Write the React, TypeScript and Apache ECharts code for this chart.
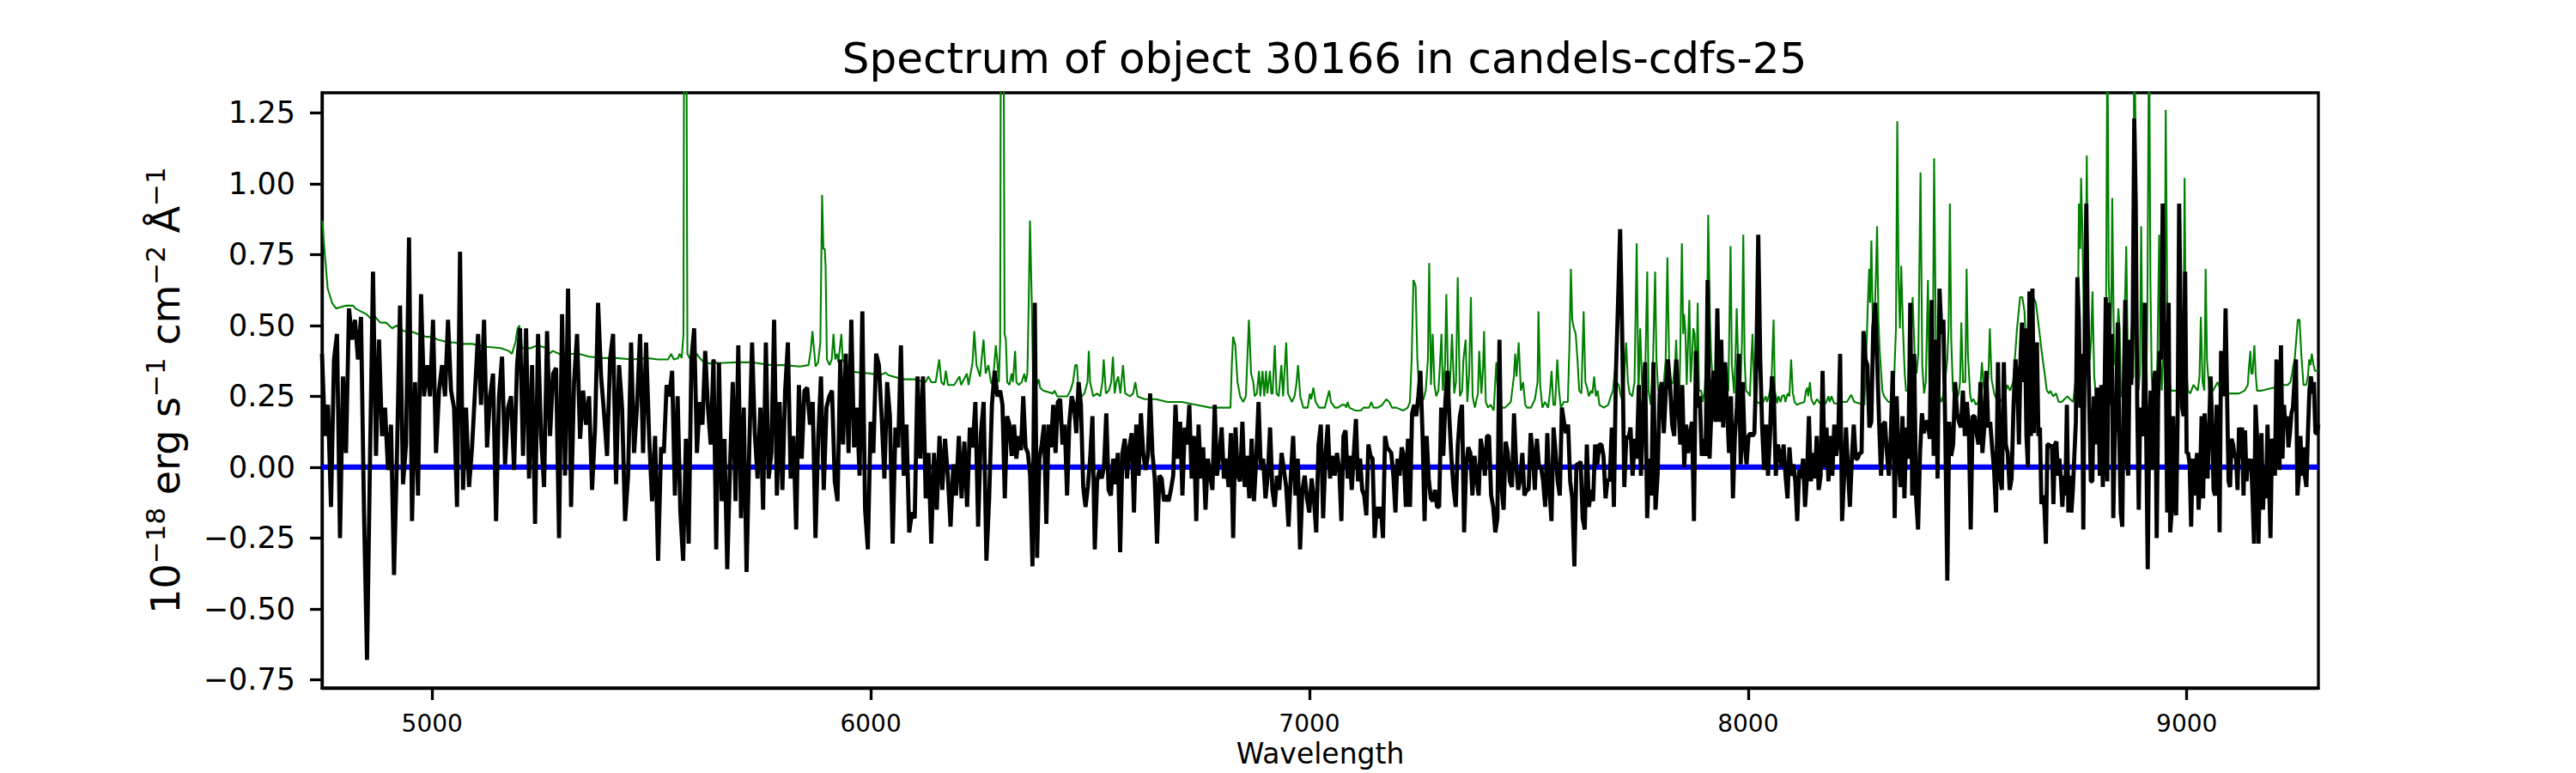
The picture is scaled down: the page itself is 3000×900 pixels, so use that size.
import React, { useEffect, useRef } from "react";
import * as echarts from "echarts";

const TITLE = "Spectrum of object 30166 in candels-cdfs-25";
const X_NAME = "Wavelength";
const Y_NAME = "{m|10}{s|\u221218}{m| erg s}{s|\u22121}{m| cm}{s|\u22122}{m| \u00c5}{s|\u22121}";
const X_MIN = 4749;
const X_MAX = 9300;
const Y_MIN = -0.779;
const Y_MAX = 1.321;
const X_TICKS = [5000, 6000, 7000, 8000, 9000];
const Y_TICKS = [-0.75, -0.5, -0.25, 0, 0.25, 0.5, 0.75, 1.0, 1.25];

// wavelength edges of the six stretches over which the flux samples are spread evenly
const segmentEdges = [4749, 5522, 6295, 7068, 7841, 8614, 9300];

const flux1 = [0.40, 0.11, 0.22, -0.14, 0.38, 0.47, -0.25, 0.32, 0.05, 0.56, 0.45, 0.52, 0.38, 0.53, -0.16, -0.68, 0.03, 0.69, 0.04, 0.45, 0.11, 0.21, -0.01, 0.15, -0.38, 0.05, 0.57, -0.06, 0.08, 0.81, -0.19, 0.30, -0.10, 0.61, 0.25, 0.36, 0.25, 0.52, 0.05, 0.27, 0.36, 0.25, 0.52, 0.27, 0.21, -0.14, 0.76, -0.08, 0.21, -0.07, 0.07, 0.27, 0.47, 0.22, 0.52, 0.07, 0.25, 0.33, -0.19, 0.25, 0.39, 0.01, 0.21, 0.25, -0.01, 0.36, 0.49, 0.04, 0.49, -0.04, 0.36, -0.20, 0.47, 0.11, -0.07, 0.48, 0.11, 0.33, 0.35, -0.25, 0.54, -0.03, 0.63, -0.14, 0.30, 0.47, 0.10, 0.27, 0.15, 0.25, -0.08, 0.14, 0.58, 0.32, 0.19, 0.04, 0.38, 0.47, -0.06, 0.36, 0.21, -0.19, -0.03, 0.44, 0.05, 0.22, 0.47, 0.05, 0.44, 0.11, -0.12, 0.11, -0.33];

const flux2 = [0.07, 0.05, 0.29, 0.25, 0.34, -0.10, 0.25, -0.16, -0.33, 0.10, -0.27, 0.38, 0.49, 0.05, 0.23, 0.15, 0.41, 0.21, 0.08, 0.38, -0.29, 0.37, -0.12, 0.10, -0.36, 0.00, 0.30, -0.12, 0.43, -0.18, 0.21, -0.37, 0.07, 0.44, 0.12, -0.04, 0.21, -0.15, 0.44, -0.04, 0.05, 0.52, -0.10, 0.23, -0.08, 0.27, 0.44, -0.04, 0.11, -0.22, 0.29, 0.03, 0.27, 0.28, 0.15, 0.23, -0.25, 0.11, 0.32, -0.08, 0.21, 0.25, 0.27, -0.05, -0.12, 0.38, 0.08, 0.40, 0.05, 0.52, 0.07, 0.21, -0.03, 0.55, -0.15, -0.29, 0.16, 0.05, 0.40, 0.36, 0.18, -0.04, 0.30, 0.18, -0.27, 0.14, 0.07, 0.43, -0.03, 0.15, -0.23, -0.16, -0.18, 0.32, 0.03, 0.32, -0.11, 0.05, -0.27, 0.05, -0.15, 0.11, -0.08, 0.10, -0.03, -0.21, 0.01, -0.10, 0.11, -0.11, 0.09, -0.14, 0.14, 0.07, 0.23, -0.21, 0.12, 0.23, -0.33, -0.11, 0.22, 0.34, 0.25];

const flux3 = [0.27, 0.22, -0.11, 0.18, 0.15, 0.04, 0.15, 0.03, 0.11, 0.06, 0.25, 0.07, 0.05, -0.03, -0.35, 0.58, -0.32, 0.03, 0.08, 0.15, -0.20, 0.15, 0.07, 0.22, 0.05, 0.23, 0.24, 0.08, 0.15, -0.10, 0.16, 0.25, 0.22, 0.12, 0.30, 0.22, -0.07, -0.14, -0.07, 0.03, 0.18, -0.29, -0.05, -0.01, -0.04, 0.00, 0.19, -0.08, -0.10, 0.03, -0.06, 0.05, -0.30, 0.05, 0.10, -0.04, 0.07, 0.12, -0.16, 0.15, -0.03, 0.19, 0.05, -0.01, 0.04, 0.26, 0.05, -0.04, -0.27, -0.03, -0.04, -0.12, -0.10, -0.12, -0.08, -0.03, 0.22, 0.03, 0.16, -0.10, 0.14, 0.08, 0.22, -0.04, 0.11, -0.19, 0.15, -0.04, 0.07, -0.15, 0.03, -0.03, -0.08, 0.22, -0.03, 0.04, 0.14, -0.04, 0.03, -0.07, 0.12, -0.25, 0.14, -0.03, -0.05, 0.16, -0.07, 0.04, -0.11, 0.10, -0.12, 0.03, 0.23, -0.01, 0.03, -0.11, -0.03, 0.14, -0.08, -0.14, -0.03, -0.08, 0.05, -0.01, -0.07, -0.21, -0.03, 0.11, -0.10, 0.03, -0.29, -0.08, -0.03, -0.11, -0.16, -0.04, -0.11, -0.23, 0.08, 0.15, -0.18, 0.04, 0.15, -0.04, 0.04, -0.03, 0.05];

const flux4 = [-0.01, -0.19, 0.11, 0.13, -0.04, 0.04, -0.08, 0.05, 0.17, -0.05, 0.03, -0.08, -0.10, -0.17, 0.08, 0.04, 0.03, -0.25, -0.14, -0.18, -0.14, -0.25, 0.11, 0.07, 0.06, 0.05, -0.03, -0.16, 0.03, -0.03, 0.07, 0.04, -0.14, 0.10, -0.14, 0.19, 0.22, 0.18, 0.25, 0.34, 0.12, -0.19, 0.11, -0.04, -0.11, -0.12, -0.08, -0.14, -0.14, 0.21, 0.04, 0.23, 0.34, 0.16, 0.02, -0.08, -0.14, 0.08, 0.18, 0.22, -0.23, 0.01, 0.07, 0.05, -0.10, 0.04, -0.04, -0.10, 0.10, 0.05, -0.03, 0.11, 0.11, -0.10, -0.14, -0.23, -0.18, 0.45, -0.07, -0.15, 0.09, 0.05, -0.05, -0.07, 0.19, 0.01, -0.08, -0.04, 0.05, -0.10, -0.08, -0.08, 0.12, 0.05, -0.08, 0.10, 0.00, 0.00, -0.05, -0.14, 0.12, -0.08, -0.19, 0.14, 0.05, -0.05, -0.10, 0.21, 0.16, 0.12, 0.15, -0.05, -0.11, -0.35, 0.01, 0.01, 0.02, -0.18, -0.22, 0.08, -0.14, -0.08, -0.12, 0.08, 0.01, 0.08, 0.08, 0.04, -0.11, -0.04, -0.05, 0.14, -0.14, 0.34, 0.58, 0.84, 0.47, -0.07, 0.11, 0.10, 0.14, -0.03, 0.10, 0.03, 0.29, -0.03, 0.19, 0.37, -0.18, 0.03, -0.10, 0.37, -0.15, -0.03, 0.26, 0.30, 0.12, 0.27, 0.38, 0.29, 0.15, 0.11, 0.38];

const flux5 = [0.22, 0.08, 0.29, 0.00, 0.15, 0.05, 0.12, 0.16, -0.19, 0.41, 0.21, 0.25, 0.04, 0.10, 0.04, 0.66, 0.03, 0.21, 0.34, 0.16, 0.56, 0.16, 0.45, 0.14, 0.37, 0.21, 0.05, 0.25, -0.11, 0.11, 0.21, 0.40, 0.01, 0.30, 0.08, 0.01, 0.11, 0.12, 0.11, 0.12, 0.36, 0.82, 0.38, 0.14, -0.01, 0.15, -0.03, 0.11, 0.32, 0.25, -0.03, 0.08, 0.05, 0.00, 0.08, -0.03, -0.11, 0.07, -0.03, 0.01, -0.05, -0.19, -0.01, -0.04, 0.03, -0.14, -0.03, 0.18, -0.05, 0.05, -0.04, 0.11, -0.08, -0.03, 0.34, 0.00, 0.14, -0.05, 0.11, -0.03, 0.15, 0.04, 0.10, 0.40, -0.19, -0.04, 0.14, 0.00, -0.14, 0.03, 0.15, 0.03, 0.03, 0.05, 0.05, 0.48, 0.38, 0.36, 0.14, 0.16, 0.49, 0.58, 0.38, 0.16, -0.03, 0.15, 0.16, 0.05, -0.03, 0.11, 0.34, -0.18, 0.25, 0.03, -0.07, 0.18, -0.11, 0.14, 0.03, 0.58, -0.10, 0.40, -0.11, -0.22, 0.05, 0.19, 0.12, 0.16, 0.16, 0.10, 0.59, 0.04, 0.45, -0.04, 0.63, 0.47, 0.52, 0.11, -0.40, 0.16, 0.04, 0.08, 0.30, 0.19, 0.16, 0.14, 0.27, 0.11, 0.23, 0.15, -0.22, 0.18, 0.18, 0.12, 0.08, 0.30, 0.05, 0.14, 0.34, 0.14, 0.16, 0.07, -0.01, -0.16, 0.37, -0.03, -0.08, 0.37, 0.08, 0.05, -0.08, -0.04, 0.22, 0.38];

const flux6 = [0.29, 0.08, 0.38, 0.51, 0.30, 0.49, 0.11, 0.00, 0.62, 0.11, 0.63, 0.12, 0.41, 0.44, 0.11, 0.14, -0.13, -0.10, -0.14, -0.27, 0.08, 0.08, 0.07, 0.08, -0.13, 0.08, 0.09, -0.03, 0.03, -0.04, -0.14, -0.03, -0.10, 0.22, -0.16, -0.03, -0.16, -0.08, 0.04, 0.16, 0.67, 0.52, 0.21, 0.40, -0.22, 0.52, 0.93, 0.47, 0.21, -0.05, -0.05, 0.25, 0.08, 0.28, 0.25, -0.03, 0.29, -0.07, 0.18, 0.60, -0.05, 0.58, 0.22, 0.47, -0.18, 0.11, 0.22, 0.51, 0.11, -0.16, -0.21, 0.27, 0.59, 0.03, -0.03, 0.45, 0.29, 0.52, 1.23, 0.93, 0.22, -0.15, 0.21, 0.15, 0.11, 0.58, 0.11, -0.36, 0.14, 0.27, -0.01, 0.30, 0.34, -0.25, 0.25, 0.41, 0.38, 0.93, 0.52, 0.41, -0.16, 0.58, -0.23, -0.16, 0.18, -0.11, -0.17, 0.18, 0.93, 0.52, 0.21, 0.18, 0.69, 0.05, 0.05, 0.01, -0.21, 0.03, -0.10, 0.00, 0.05, -0.15, -0.03, 0.18, -0.11, 0.19, 0.04, -0.04, 0.14, 0.32, 0.15, -0.08, -0.10, 0.22, 0.18, -0.23, 0.41, 0.36, 0.25, 0.56, 0.25, -0.05, -0.07, 0.10, 0.08, 0.04, 0.03, -0.08, 0.14, 0.03, 0.14, -0.10, 0.13, -0.05, 0.03, -0.01, 0.03, -0.10, -0.27, 0.22, 0.11, -0.27, 0.03, 0.12, -0.15, 0.00, -0.11, 0.15, -0.04, -0.25, 0.10, 0.08, -0.03, 0.38, 0.21, -0.01, 0.43, 0.03, 0.22, 0.14, 0.18, 0.07, 0.12, 0.19, 0.21, 0.30, 0.38, -0.10, -0.03, 0.11, -0.03, 0.07, -0.03, -0.07, 0.12, 0.27, 0.32, 0.26, 0.30, 0.12, 0.12, 0.15];

const fluxSegments = [flux1, flux2, flux3, flux4, flux5, flux6];

// noise / sky spectrum: [wavelength, value]
const noise1 = [[4750, 0.87], [4753, 0.80], [4756, 0.74], [4762, 0.63], [4772, 0.58], [4781, 0.56], [4804, 0.57], [4820, 0.57], [4825, 0.56], [4837, 0.55], [4850, 0.54], [4863, 0.52], [4870, 0.53], [4882, 0.51], [4895, 0.51], [4909, 0.49], [4920, 0.50], [4935, 0.48], [4950, 0.48], [4967, 0.47], [4987, 0.46], [5000, 0.46], [5013, 0.45], [5039, 0.44], [5050, 0.44], [5065, 0.435], [5091, 0.435], [5124, 0.425], [5156, 0.42], [5175, 0.41], [5182, 0.40], [5190, 0.44], [5195, 0.49], [5199, 0.50], [5205, 0.42], [5225, 0.42], [5240, 0.43], [5261, 0.42], [5267, 0.40], [5275, 0.41], [5290, 0.40], [5313, 0.40], [5335, 0.40], [5358, 0.39], [5391, 0.385], [5420, 0.385], [5456, 0.38], [5490, 0.385], [5515, 0.38]];

const noise2 = [[5538, 0.38], [5545, 0.40], [5551, 0.38], [5561, 0.385], [5564, 0.40], [5569, 0.385], [5573, 0.47], [5575, 2.0], [5579, 2.0], [5582, 0.40], [5587, 0.385], [5597, 0.38], [5603, 0.40], [5610, 0.385], [5620, 0.37], [5636, 0.365], [5642, 0.38], [5649, 0.365], [5662, 0.368], [5695, 0.37], [5727, 0.37], [5773, 0.36], [5805, 0.36], [5838, 0.355], [5858, 0.36], [5863, 0.41], [5867, 0.48], [5871, 0.41], [5874, 0.355], [5880, 0.37], [5885, 0.44], [5889, 0.96], [5892, 0.77], [5895, 0.77], [5897, 0.71], [5900, 0.38], [5906, 0.36], [5911, 0.38], [5915, 0.47], [5919, 0.38], [5923, 0.40], [5926, 0.37], [5933, 0.47], [5936, 0.38], [5942, 0.36], [5949, 0.34], [5968, 0.335], [6001, 0.33], [6021, 0.325], [6034, 0.333], [6040, 0.325], [6073, 0.31], [6099, 0.31], [6125, 0.30], [6131, 0.32], [6138, 0.30], [6148, 0.30], [6156, 0.38], [6161, 0.30], [6167, 0.29], [6171, 0.34], [6176, 0.29], [6190, 0.29], [6202, 0.32], [6206, 0.29], [6219, 0.33], [6223, 0.29], [6232, 0.37], [6236, 0.48], [6241, 0.36], [6249, 0.32], [6257, 0.45], [6262, 0.33], [6268, 0.36], [6274, 0.30], [6278, 0.29], [6285, 0.43], [6288, 0.38], [6292, 0.30], [6295, 0.45]];

const noise3 = [[6297, 2.0], [6302, 2.0], [6305, 0.47], [6308, 0.45], [6311, 0.30], [6316, 0.29], [6321, 0.33], [6324, 0.30], [6329, 0.41], [6332, 0.30], [6337, 0.29], [6344, 0.30], [6350, 0.33], [6353, 0.30], [6357, 0.33], [6360, 0.58], [6363, 0.87], [6367, 0.58], [6370, 0.30], [6376, 0.28], [6383, 0.31], [6386, 0.28], [6393, 0.27], [6415, 0.26], [6419, 0.27], [6425, 0.25], [6448, 0.25], [6455, 0.27], [6461, 0.30], [6466, 0.36], [6470, 0.36], [6474, 0.26], [6481, 0.25], [6487, 0.26], [6494, 0.30], [6497, 0.41], [6500, 0.30], [6507, 0.25], [6516, 0.26], [6523, 0.25], [6528, 0.30], [6531, 0.38], [6536, 0.26], [6543, 0.27], [6548, 0.30], [6552, 0.39], [6556, 0.26], [6560, 0.30], [6564, 0.32], [6569, 0.26], [6575, 0.36], [6580, 0.26], [6591, 0.25], [6598, 0.26], [6603, 0.30], [6608, 0.25], [6624, 0.24], [6650, 0.24], [6676, 0.23], [6709, 0.23], [6741, 0.22], [6774, 0.21], [6807, 0.21], [6820, 0.21], [6823, 0.36], [6826, 0.46], [6831, 0.43], [6836, 0.30], [6842, 0.25], [6849, 0.23], [6855, 0.25], [6862, 0.52], [6867, 0.33], [6872, 0.30], [6875, 0.25], [6880, 0.26], [6885, 0.34], [6888, 0.25], [6893, 0.34], [6897, 0.25], [6901, 0.34], [6904, 0.26], [6910, 0.34], [6913, 0.26], [6916, 0.26], [6921, 0.43], [6925, 0.26], [6930, 0.25], [6936, 0.36], [6940, 0.25], [6947, 0.44], [6951, 0.26], [6960, 0.23], [6966, 0.25], [6970, 0.29], [6974, 0.36], [6979, 0.25], [6986, 0.21], [6996, 0.21], [7001, 0.26], [7004, 0.24], [7009, 0.28], [7014, 0.23], [7022, 0.21], [7035, 0.21], [7045, 0.27], [7049, 0.23], [7058, 0.21]];

const noise4 = [[7065, 0.21], [7074, 0.22], [7081, 0.22], [7084, 0.21], [7087, 0.23], [7091, 0.21], [7104, 0.20], [7117, 0.20], [7123, 0.21], [7130, 0.21], [7136, 0.21], [7141, 0.23], [7146, 0.21], [7156, 0.21], [7166, 0.22], [7175, 0.24], [7182, 0.23], [7188, 0.21], [7198, 0.21], [7214, 0.20], [7224, 0.21], [7229, 0.23], [7233, 0.38], [7237, 0.66], [7242, 0.64], [7246, 0.38], [7250, 0.27], [7254, 0.23], [7260, 0.24], [7265, 0.27], [7270, 0.38], [7273, 0.72], [7277, 0.29], [7281, 0.47], [7285, 0.29], [7289, 0.25], [7294, 0.27], [7298, 0.38], [7301, 0.47], [7304, 0.27], [7309, 0.36], [7312, 0.61], [7316, 0.30], [7319, 0.25], [7322, 0.36], [7325, 0.47], [7330, 0.26], [7334, 0.30], [7338, 0.67], [7343, 0.25], [7348, 0.27], [7351, 0.38], [7356, 0.45], [7360, 0.23], [7364, 0.33], [7368, 0.60], [7372, 0.25], [7377, 0.21], [7384, 0.26], [7387, 0.41], [7392, 0.26], [7396, 0.36], [7398, 0.48], [7402, 0.23], [7407, 0.21], [7413, 0.22], [7420, 0.20], [7426, 0.37], [7431, 0.22], [7436, 0.21], [7446, 0.21], [7459, 0.23], [7466, 0.32], [7469, 0.40], [7472, 0.32], [7477, 0.44], [7482, 0.27], [7487, 0.30], [7492, 0.22], [7496, 0.21], [7505, 0.21], [7514, 0.24], [7520, 0.30], [7522, 0.55], [7526, 0.29], [7531, 0.21], [7537, 0.23], [7544, 0.21], [7548, 0.26], [7552, 0.34], [7556, 0.22], [7560, 0.22], [7565, 0.38], [7569, 0.27], [7573, 0.21], [7580, 0.23], [7589, 0.23], [7593, 0.45], [7596, 0.70], [7599, 0.52], [7603, 0.49], [7607, 0.47], [7611, 0.38], [7615, 0.27], [7620, 0.26], [7625, 0.55], [7629, 0.30], [7633, 0.28], [7637, 0.25], [7642, 0.27], [7645, 0.26], [7649, 0.32], [7653, 0.25], [7657, 0.27], [7661, 0.22], [7671, 0.21], [7681, 0.22], [7687, 0.25], [7692, 0.27], [7696, 0.34], [7700, 0.30], [7705, 0.29], [7710, 0.25], [7715, 0.23], [7718, 0.33], [7722, 0.44], [7726, 0.30], [7730, 0.26], [7736, 0.25], [7741, 0.30], [7746, 0.79], [7750, 0.25], [7754, 0.49], [7759, 0.25], [7765, 0.30], [7770, 0.69], [7773, 0.27], [7778, 0.22], [7783, 0.36], [7788, 0.69], [7791, 0.38], [7795, 0.27], [7801, 0.26], [7808, 0.30], [7812, 0.38], [7816, 0.74], [7820, 0.36], [7824, 0.29], [7829, 0.30], [7834, 0.38]];

const noise5 = [[7836, 0.45], [7839, 0.30], [7843, 0.25], [7845, 0.38], [7849, 0.79], [7852, 0.47], [7854, 0.54], [7857, 0.48], [7860, 0.29], [7864, 0.49], [7866, 0.59], [7869, 0.30], [7872, 0.38], [7875, 0.49], [7878, 0.47], [7882, 0.29], [7885, 0.58], [7888, 0.27], [7893, 0.27], [7896, 0.23], [7901, 0.27], [7906, 0.45], [7909, 0.89], [7913, 0.52], [7916, 0.38], [7921, 0.27], [7926, 0.30], [7929, 0.27], [7935, 0.27], [7942, 0.29], [7948, 0.26], [7955, 0.27], [7960, 0.78], [7963, 0.36], [7968, 0.26], [7971, 0.38], [7974, 0.56], [7978, 0.33], [7982, 0.26], [7986, 0.44], [7989, 0.82], [7992, 0.38], [7995, 0.27], [8001, 0.26], [8004, 0.25], [8007, 0.37], [8010, 0.47], [8014, 0.26], [8020, 0.23], [8027, 0.225], [8033, 0.225], [8040, 0.25], [8043, 0.23], [8047, 0.25], [8053, 0.29], [8058, 0.52], [8061, 0.27], [8066, 0.225], [8069, 0.25], [8074, 0.23], [8077, 0.25], [8082, 0.255], [8085, 0.23], [8090, 0.26], [8094, 0.25], [8098, 0.38], [8102, 0.26], [8106, 0.23], [8111, 0.22], [8118, 0.225], [8128, 0.23], [8132, 0.27], [8135, 0.28], [8137, 0.25], [8141, 0.30], [8144, 0.24], [8150, 0.22], [8157, 0.24], [8164, 0.225], [8170, 0.225], [8177, 0.225], [8183, 0.25], [8186, 0.23], [8190, 0.25], [8196, 0.225], [8206, 0.225], [8216, 0.23], [8225, 0.23], [8235, 0.255], [8242, 0.23], [8255, 0.225], [8265, 0.22], [8269, 0.38], [8273, 0.58], [8276, 0.70], [8278, 0.58], [8281, 0.80], [8284, 0.52], [8287, 0.47], [8291, 0.66], [8294, 0.85], [8297, 0.52], [8300, 0.41], [8306, 0.27], [8310, 0.25], [8320, 0.23], [8327, 0.23], [8332, 0.27], [8334, 0.36], [8337, 0.49], [8340, 1.22], [8343, 0.66], [8346, 0.49], [8349, 0.71], [8353, 0.49], [8357, 0.33], [8360, 0.27], [8364, 0.27], [8369, 0.30], [8372, 0.47], [8375, 0.60], [8380, 0.38], [8384, 0.33], [8388, 0.40], [8393, 1.04], [8397, 0.36], [8401, 0.26], [8405, 0.30], [8408, 0.52], [8410, 0.66], [8413, 0.30], [8416, 0.30], [8421, 0.38], [8424, 1.09], [8428, 0.45], [8431, 0.25], [8436, 0.25], [8441, 0.23], [8444, 0.25], [8449, 0.30], [8454, 0.38], [8457, 0.49], [8460, 0.93], [8463, 0.45], [8467, 0.27], [8473, 0.23], [8480, 0.26], [8483, 0.30], [8486, 0.51], [8490, 0.30], [8495, 0.30], [8498, 0.70], [8501, 0.40], [8506, 0.26], [8509, 0.23], [8514, 0.24], [8519, 0.22], [8525, 0.23], [8530, 0.30], [8533, 0.37], [8536, 0.30], [8540, 0.25], [8545, 0.27], [8548, 0.33], [8551, 0.49], [8555, 0.31], [8561, 0.26], [8568, 0.23], [8574, 0.23], [8584, 0.25], [8591, 0.29], [8597, 0.27], [8604, 0.30], [8608, 0.38], [8613, 0.49]];

const noise6 = [[8620, 0.60], [8625, 0.60], [8630, 0.55], [8633, 0.44], [8640, 0.38], [8644, 0.55], [8650, 0.60], [8653, 0.59], [8656, 0.58], [8663, 0.49], [8669, 0.41], [8676, 0.33], [8681, 0.27], [8686, 0.26], [8689, 0.27], [8695, 0.25], [8702, 0.26], [8708, 0.23], [8715, 0.23], [8721, 0.24], [8728, 0.25], [8734, 0.24], [8741, 0.23], [8746, 0.30], [8751, 0.38], [8754, 0.93], [8757, 0.77], [8759, 1.02], [8762, 0.84], [8766, 0.45], [8769, 0.52], [8772, 1.10], [8775, 0.58], [8779, 0.38], [8782, 0.45], [8785, 0.62], [8789, 0.32], [8793, 0.25], [8800, 0.26], [8806, 0.25], [8811, 0.30], [8816, 0.55], [8819, 1.6], [8822, 0.66], [8826, 0.45], [8828, 0.58], [8830, 0.95], [8834, 0.41], [8837, 0.36], [8841, 0.44], [8844, 0.56], [8847, 0.49], [8850, 0.25], [8855, 0.25], [8858, 0.52], [8862, 0.78], [8865, 0.45], [8868, 0.25], [8871, 0.29], [8878, 0.32], [8880, 1.6], [8883, 1.20], [8886, 0.45], [8890, 0.27], [8893, 0.33], [8896, 0.85], [8899, 0.38], [8903, 0.27], [8907, 0.26], [8910, 0.52], [8914, 1.6], [8917, 0.66], [8920, 0.32], [8923, 0.25], [8930, 0.27], [8933, 0.38], [8937, 0.82], [8940, 0.38], [8943, 0.27], [8946, 0.38], [8950, 0.66], [8952, 1.26], [8955, 0.66], [8957, 0.32], [8961, 0.30], [8964, 0.27], [8969, 0.27], [8976, 0.27], [8985, 0.27], [8992, 0.36], [8995, 1.02], [8998, 0.38], [9002, 0.27], [9008, 0.26], [9015, 0.29], [9025, 0.27], [9029, 0.32], [9032, 0.53], [9036, 0.30], [9040, 0.27], [9043, 0.70], [9046, 0.38], [9051, 0.27], [9060, 0.27], [9070, 0.30], [9080, 0.26], [9085, 0.30], [9088, 0.44], [9092, 0.27], [9096, 0.26], [9106, 0.26], [9119, 0.26], [9132, 0.27], [9139, 0.29], [9142, 0.36], [9145, 0.41], [9147, 0.33], [9150, 0.33], [9154, 0.43], [9157, 0.33], [9160, 0.27], [9171, 0.27], [9197, 0.28], [9217, 0.29], [9230, 0.29], [9236, 0.30], [9240, 0.33], [9243, 0.36], [9246, 0.38], [9249, 0.44], [9253, 0.52], [9257, 0.52], [9261, 0.40], [9266, 0.29], [9272, 0.29], [9276, 0.32], [9279, 0.38], [9282, 0.36], [9285, 0.40], [9289, 0.36], [9292, 0.34], [9300, 0.34]];

const zeroLevel = [[X_MIN, 0], [X_MAX, 0]];

const FONT = "DejaVu Sans";

function buildFlux(): number[][] {
  const pts: number[][] = [];
  fluxSegments.forEach((vals, k) => {
    const a = segmentEdges[k];
    const b = segmentEdges[k + 1];
    const last = k === fluxSegments.length - 1;
    const step = (b - a) / (last ? vals.length - 1 : vals.length);
    vals.forEach((v, i) => pts.push([a + i * step, v]));
  });
  return pts;
}

function fmtY(v: number): string {
  const s = Math.abs(v).toFixed(2);
  return v < -1e-9 ? "\u2212" + s : s;
}

export default function App() {
  const ref = useRef<HTMLDivElement>(null);
  useEffect(() => {
    if (!ref.current) return;
    const chart = echarts.init(ref.current, undefined, { renderer: "svg" });
    const noise = [...noise1, ...noise2, ...noise3, ...noise4, ...noise5, ...noise6];
    const option: any = {
      animation: false,
      backgroundColor: "#ffffff",
      title: {
        text: TITLE,
        left: 1537.5,
        textAlign: "center",
        top: 38,
        textStyle: { fontFamily: FONT, fontSize: 50, fontWeight: "normal", color: "#000" },
      },
      grid: {
        left: 375,
        right: 300,
        top: 108,
        bottom: 99,
        containLabel: false,
        outerBoundsMode: "none",
        show: true,
        borderColor: "#000",
        borderWidth: 3.3,
        backgroundColor: "transparent",
      },
      xAxis: {
        type: "value",
        min: X_MIN,
        max: X_MAX,
        name: X_NAME,
        nameLocation: "middle",
        nameGap: 56,
        nameTextStyle: { fontFamily: FONT, fontSize: 33, color: "#000" },
        axisLine: { show: true, onZero: false, lineStyle: { color: "#000", width: 3.3 } },
        axisTick: { show: true, inside: false, length: 14, customValues: X_TICKS, lineStyle: { color: "#000", width: 3.3 } },
        axisLabel: { show: true, margin: 27, customValues: X_TICKS, fontFamily: FONT, fontSize: 28, color: "#000", formatter: (v: number) => String(v) },
        splitLine: { show: false },
      },
      yAxis: {
        type: "value",
        min: Y_MIN,
        max: Y_MAX,
        name: Y_NAME,
        nameLocation: "middle",
        nameRotate: 90,
        nameGap: 159,
        nameTextStyle: {
          fontFamily: FONT,
          color: "#000",
          rich: {
            m: { fontFamily: FONT, fontSize: 46, color: "#000", verticalAlign: "bottom", lineHeight: 51 },
            s: { fontFamily: FONT, fontSize: 31, color: "#000", verticalAlign: "top", lineHeight: 51 },
          },
        },
        axisLine: { show: true, onZero: false, lineStyle: { color: "#000", width: 3.3 } },
        axisTick: { show: true, inside: false, length: 14, customValues: Y_TICKS, lineStyle: { color: "#000", width: 3.3 } },
        axisLabel: { show: true, margin: 31, customValues: Y_TICKS, fontFamily: FONT, fontSize: 35, color: "#000", formatter: fmtY },
        splitLine: { show: false },
      },
      series: [
        {
          name: "zero",
          type: "line",
          data: zeroLevel,
          showSymbol: false,
          symbol: "none",
          lineStyle: { color: "#0000ff", width: 6.2 },
          z: 2,
          silent: true,
        },
        {
          name: "noise",
          type: "line",
          data: noise,
          showSymbol: false,
          symbol: "none",
          clip: true,
          lineStyle: { color: "#008000", width: 2.1 },
          z: 3,
          silent: true,
        },
        {
          name: "flux",
          type: "line",
          data: buildFlux(),
          showSymbol: false,
          symbol: "none",
          clip: true,
          lineStyle: { color: "#000000", width: 4.8 },
          z: 4,
          silent: true,
        },
      ],
    };
    chart.setOption(option);
    return () => chart.dispose();
  }, []);
  return (
    <div
      ref={ref}
      style={{ position: "fixed", left: 0, top: 0, width: 3000, height: 900, background: "#ffffff" }}
    />
  );
}
